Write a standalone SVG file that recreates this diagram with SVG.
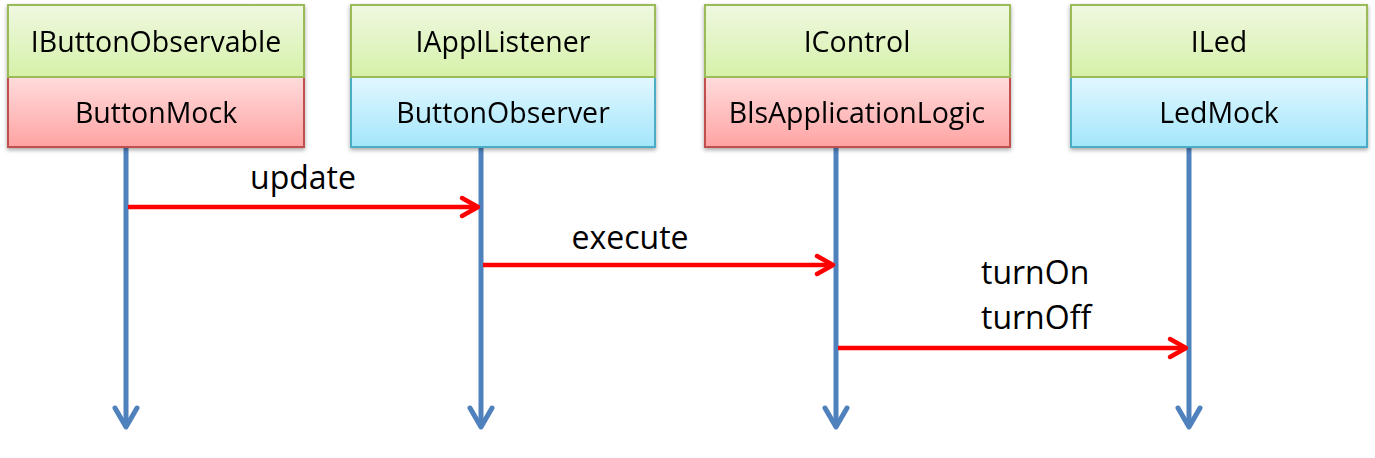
<svg xmlns="http://www.w3.org/2000/svg" width="1375" height="458" viewBox="0 0 1375 458">
<style>
text{font-family:"Open Sans","Liberation Sans",sans-serif;fill:#000}
.box{font-size:28.5px;text-anchor:middle}
.lbl{font-size:32px}
.mid{text-anchor:middle}
.life{stroke:#4f81bd;stroke-width:5;fill:none}
.lifehead{stroke:#4f81bd;stroke-width:5;fill:none;stroke-linecap:round;stroke-linejoin:round}
.msg{stroke:#ff0000;stroke-width:4.5;fill:none}
.msghead{stroke:#ff0000;stroke-width:4.5;fill:none;stroke-linecap:round;stroke-linejoin:round}
.iface{fill:url(#gGreen);stroke:#9bbb59;stroke-width:2}
.red{fill:url(#gRed);stroke:#c0504d;stroke-width:2}
.blue{fill:url(#gBlue);stroke:#4bacc6;stroke-width:2}
</style>
<defs>
<linearGradient id="gGreen" x1="0" y1="0" x2="0" y2="1"><stop offset="0" stop-color="#eff8e2"/><stop offset="1" stop-color="#d6f1a8"/></linearGradient>
<linearGradient id="gRed" x1="0" y1="0" x2="0" y2="1"><stop offset="0" stop-color="#ffdcdc"/><stop offset="1" stop-color="#ffa3a3"/></linearGradient>
<linearGradient id="gBlue" x1="0" y1="0" x2="0" y2="1"><stop offset="0" stop-color="#e2f7ff"/><stop offset="1" stop-color="#a3e6fb"/></linearGradient>
<filter id="sh" x="-5%" y="-5%" width="110%" height="120%"><feDropShadow dx="0" dy="2" stdDeviation="2" flood-color="#000" flood-opacity="0.35"/></filter>
</defs>

<g id="connectors">
<line class="life" x1="126" y1="147" x2="126" y2="426"/>
<polyline class="lifehead" points="115,408 126,427 137,408"/>
<line class="life" x1="481" y1="147" x2="481" y2="426"/>
<polyline class="lifehead" points="470,408 481,427 492,408"/>
<line class="life" x1="836" y1="147" x2="836" y2="426"/>
<polyline class="lifehead" points="825,408 836,427 847,408"/>
<line class="life" x1="1189" y1="147" x2="1189" y2="426"/>
<polyline class="lifehead" points="1178,408 1189,427 1200,408"/>

<line class="msg" x1="128" y1="207" x2="477" y2="207"/>
<polyline class="msghead" points="462,198 478,207 462,216"/>
<line class="msg" x1="483" y1="265" x2="832" y2="265"/>
<polyline class="msghead" points="817,256 833,265 817,274"/>
<line class="msg" x1="838" y1="348" x2="1185" y2="348"/>
<polyline class="msghead" points="1170,339 1186,348 1170,357"/>

<text class="lbl mid" x="303" y="189">update</text>
<text class="lbl mid" x="630" y="249">execute</text>
<text class="lbl" x="981" y="284">turnOn</text>
<text class="lbl" x="981" y="329">turnOff</text>
</g>

<g id="node-buttonmock" filter="url(#sh)">
<rect class="red" x="8" y="77" width="296" height="70"/>
<rect class="iface" x="8" y="5" width="296" height="72"/>
<text class="box" x="156" y="52">IButtonObservable</text>
<text class="box" x="156" y="123">ButtonMock</text>
</g>

<g id="node-buttonobserver" filter="url(#sh)">
<rect class="blue" x="351" y="77" width="304" height="70"/>
<rect class="iface" x="351" y="5" width="304" height="72"/>
<text class="box" x="503" y="52">IApplListener</text>
<text class="box" x="503" y="123">ButtonObserver</text>
</g>

<g id="node-blsapplicationlogic" filter="url(#sh)">
<rect class="red" x="705" y="77" width="305" height="70"/>
<rect class="iface" x="705" y="5" width="305" height="72"/>
<text class="box" x="857" y="52">IControl</text>
<text class="box" x="857" y="123">BlsApplicationLogic</text>
</g>

<g id="node-ledmock" filter="url(#sh)">
<rect class="blue" x="1071" y="77" width="296" height="70"/>
<rect class="iface" x="1071" y="5" width="296" height="72"/>
<text class="box" x="1219" y="52">ILed</text>
<text class="box" x="1219" y="123">LedMock</text>
</g>
</svg>
